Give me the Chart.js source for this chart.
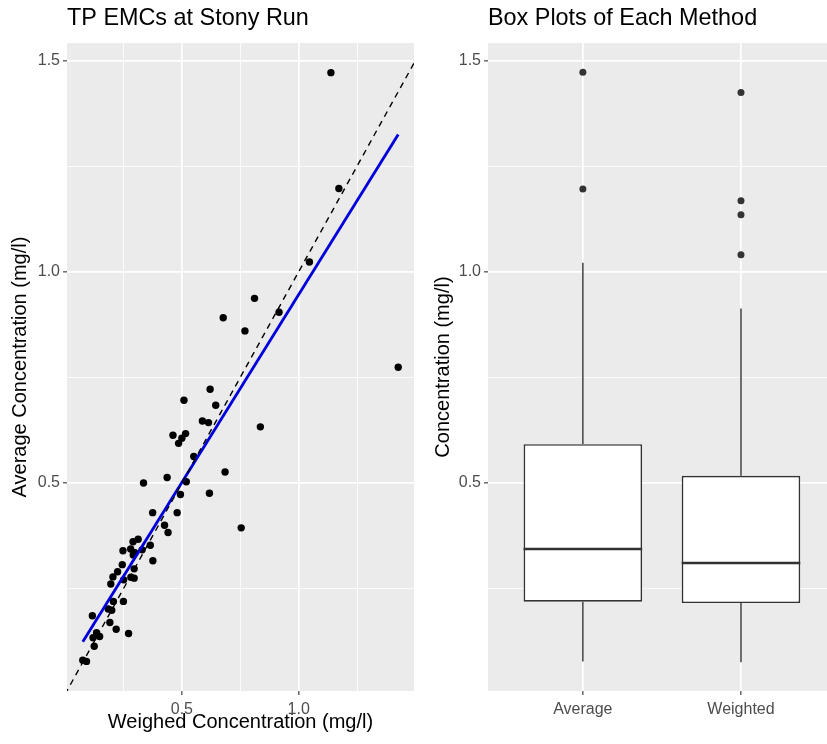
<!DOCTYPE html>
<html>
<head>
<meta charset="utf-8">
<script src="https://cdn.jsdelivr.net/npm/chart.js@4.4.1/dist/chart.umd.min.js"></script>
<style>
html,body{margin:0;padding:0;background:#ffffff;}
#wrap{position:relative;width:827px;height:744px;overflow:hidden;}
#c1{position:absolute;left:0;top:0;}
#c2{position:absolute;left:420px;top:0;}
</style>
</head>
<body>
<div id="wrap">
<canvas id="c1" width="420" height="744"></canvas>
<canvas id="c2" width="407" height="744"></canvas>
</div>
<script>
// ---------- Data: scatter (Weighted vs Average EMC, mg/l) ----------
const weighted = [1.426,1.138,1.172,1.046,0.811,0.677,0.916,0.770,0.621,0.509,0.645,0.588,0.614,0.836,0.462,0.516,0.500,0.486,0.551,0.685,0.437,0.336,0.519,0.494,0.618,0.375,0.480,0.426,0.754,0.441,0.291,0.313,0.365,0.248,0.281,0.299,0.330,0.292,0.376,0.245,0.225,0.205,0.296,0.282,0.296,0.251,0.196,0.250,0.207,0.185,0.200,0.117,0.192,0.219,0.272,0.120,0.135,0.148,0.125,0.076,0.092];
const average  = [0.774,1.471,1.197,1.023,0.937,0.891,0.904,0.860,0.722,0.696,0.684,0.647,0.643,0.633,0.613,0.617,0.606,0.594,0.563,0.526,0.513,0.500,0.503,0.473,0.476,0.430,0.430,0.400,0.394,0.383,0.361,0.367,0.353,0.340,0.344,0.335,0.342,0.330,0.316,0.307,0.290,0.278,0.297,0.277,0.275,0.271,0.261,0.220,0.220,0.202,0.199,0.186,0.170,0.154,0.144,0.134,0.146,0.137,0.114,0.081,0.078];
const fitIntercept = 0.057;
const fitSlope = 0.889;
const identityLine = [0, 1.6];

// ---------- Data: box plots ----------
const methods = ['Average', 'Weighted'];
const boxLow    = [0.078, 0.076];
const boxQ1     = [0.219, 0.216];
const boxMedian = [0.344, 0.311];
const boxQ3     = [0.592, 0.517];
const boxHigh   = [1.021, 0.913];
const outliersAverage  = [1.472, 1.196];
const outliersWeighted = [1.424, 1.168, 1.135, 1.040];

// ---------- Axis ticks ----------
const yTickValues = [0.25, 0.5, 0.75, 1.0, 1.25, 1.5];
const xTickValues = [0.25, 0.5, 0.75, 1.0, 1.25];
const catTickValues = [1, 2];

// ---------- Styling ----------
const FONT = "'Liberation Sans', Arial, sans-serif";
Chart.defaults.font.family = FONT;
Chart.defaults.animation = false;
const isMajor = v => Math.abs(v * 2 - Math.round(v * 2)) < 1e-6;

const panelBg = {
  id: 'panelBg',
  beforeDraw(chart) {
    const {ctx, chartArea: a} = chart;
    ctx.save();
    ctx.fillStyle = '#EBEBEB';
    ctx.fillRect(a.left, a.top, a.right - a.left, a.bottom - a.top);
    ctx.restore();
  }
};

function gridOpts(majorOnlyTicks) {
  return {
    color: '#FFFFFF',
    lineWidth: c => (c.tick && (majorOnlyTicks ? isMajor(c.tick.value) : true)) ? 1.7 : 0.8,
    drawTicks: true,
    tickLength: 4,
    tickWidth: 1.1,
    tickColor: c => (c.tick && (majorOnlyTicks ? isMajor(c.tick.value) : true)) ? '#333333' : 'rgba(0,0,0,0)'
  };
}

function numTicks(pad) {
  return {
    autoSkip: false,
    maxRotation: 0,
    color: '#4D4D4D',
    font: {size: 16},
    padding: pad,
    callback: v => isMajor(v) ? v.toFixed(1) : ''
  };
}

function titleOpts(text) {
  return {
    display: true, text, align: 'start', fullSize: false,
    color: '#000000', font: {size: 23.4, weight: 'normal'},
    padding: {top: 5, bottom: 10}
  };
}

const yMin = 0.008, yMax = 1.541;
const fitX = (h) => s => { s.height = h; s.paddingLeft = 0; s.paddingRight = 0; };

// ---------- Left chart ----------
const scatterPts = weighted.map((w, i) => ({x: w, y: average[i]}));
const xMinData = Math.min(...weighted), xMaxData = Math.max(...weighted);
const fitPts = [xMinData, xMaxData].map(x => ({x, y: fitIntercept + fitSlope * x}));

new Chart(document.getElementById('c1'), {
  type: 'scatter',
  data: {
    datasets: [
      {type: 'line', data: identityLine.map(v => ({x: v, y: v})), borderColor: '#000000', borderWidth: 1.4,
       borderDash: [6, 5], pointRadius: 0, fill: false},
      {type: 'line', data: fitPts, borderColor: '#0000DD', borderWidth: 2.8, pointRadius: 0, fill: false},
      {type: 'scatter', data: scatterPts, pointRadius: 3.7, pointBackgroundColor: '#000000',
       pointBorderWidth: 0, pointBorderColor: '#000000'}
    ]
  },
  options: {
    responsive: false, devicePixelRatio: 1, animation: false,
    layout: {autoPadding: false, padding: {top: 0, left: 0, right: 6, bottom: 0}},
    plugins: {legend: {display: false}, tooltip: {enabled: false}, title: titleOpts('TP EMCs at Stony Run')},
    scales: {
      x: {
        type: 'linear', min: 0.0085, max: 1.4935,
        afterBuildTicks: s => { s.ticks = xTickValues.map(v => ({value: v})); },
        afterFit: fitX(53),
        grid: gridOpts(true), border: {display: false}, ticks: numTicks(5),
        title: {display: true, text: 'Weighed Concentration (mg/l)', color: '#000000',
                font: {size: 20}, padding: {top: 0, bottom: 10}}
      },
      y: {
        type: 'linear', min: yMin, max: yMax,
        afterBuildTicks: s => { s.ticks = yTickValues.map(v => ({value: v})); },
        afterFit: s => { s.width = 67; },
        grid: gridOpts(true), border: {display: false}, ticks: numTicks(3),
        title: {display: true, text: 'Average Concentration (mg/l)', color: '#000000',
                font: {size: 20}, padding: {top: 8, bottom: 0}}
      }
    }
  },
  plugins: [panelBg]
});

// ---------- Right chart ----------
const boxHalf = 0.375;
const boxDatasets = [];
methods.forEach((m, i) => {
  const cx = i + 1;
  boxDatasets.push({type: 'line', data: [{x: cx - boxHalf, y: boxMedian[i]}, {x: cx + boxHalf, y: boxMedian[i]}],
    borderColor: '#333333', borderWidth: 2.6, pointRadius: 0, fill: false, borderCapStyle: 'butt'});
});
const outPts = outliersAverage.map(v => ({x: 1, y: v})).concat(outliersWeighted.map(v => ({x: 2, y: v})));
boxDatasets.push({type: 'scatter', data: outPts, pointRadius: 3.5, pointBackgroundColor: '#333333', pointBorderWidth: 0});
methods.forEach((m, i) => {
  const cx = i + 1;
  boxDatasets.push({type: 'line', data: [{x: cx, y: boxQ3[i]}, {x: cx, y: boxHigh[i]}],
    borderColor: '#333333', borderWidth: 1.4, pointRadius: 0, fill: false});
  boxDatasets.push({type: 'line', data: [{x: cx, y: boxLow[i]}, {x: cx, y: boxQ1[i]}],
    borderColor: '#333333', borderWidth: 1.4, pointRadius: 0, fill: false});
});
boxDatasets.push({type: 'bar', data: methods.map((m, i) => ({x: i + 1, y: [boxQ1[i], boxQ3[i]]})),
  backgroundColor: '#FFFFFF', borderColor: '#333333', borderWidth: 1.7, borderSkipped: false,
  categoryPercentage: 1.0, barPercentage: boxHalf * 2});

new Chart(document.getElementById('c2'), {
  type: 'scatter',
  data: {datasets: boxDatasets},
  options: {
    responsive: false, devicePixelRatio: 1, animation: false,
    layout: {autoPadding: false, padding: {top: 0, left: 0, right: 0, bottom: 0}},
    plugins: {legend: {display: false}, tooltip: {enabled: false}, title: titleOpts('Box Plots of Each Method')},
    scales: {
      x: {
        type: 'linear', min: 0.4, max: 2.544, offset: false,
        afterBuildTicks: s => { s.ticks = catTickValues.map(v => ({value: v})); },
        afterFit: fitX(53),
        grid: Object.assign(gridOpts(false), {offset: false}), border: {display: false},
        ticks: {autoSkip: false, maxRotation: 0, color: '#4D4D4D', font: {size: 16}, padding: 5,
                callback: v => methods[Math.round(v) - 1] || ''}
      },
      y: {
        type: 'linear', min: yMin, max: yMax,
        afterBuildTicks: s => { s.ticks = yTickValues.map(v => ({value: v})); },
        afterFit: s => { s.width = 68; },
        grid: gridOpts(true), border: {display: false}, ticks: numTicks(3),
        title: {display: true, text: 'Concentration (mg/l)', color: '#000000',
                font: {size: 20}, padding: {top: 11, bottom: 0}}
      }
    }
  },
  plugins: [panelBg]
});
</script>
</body>
</html>
